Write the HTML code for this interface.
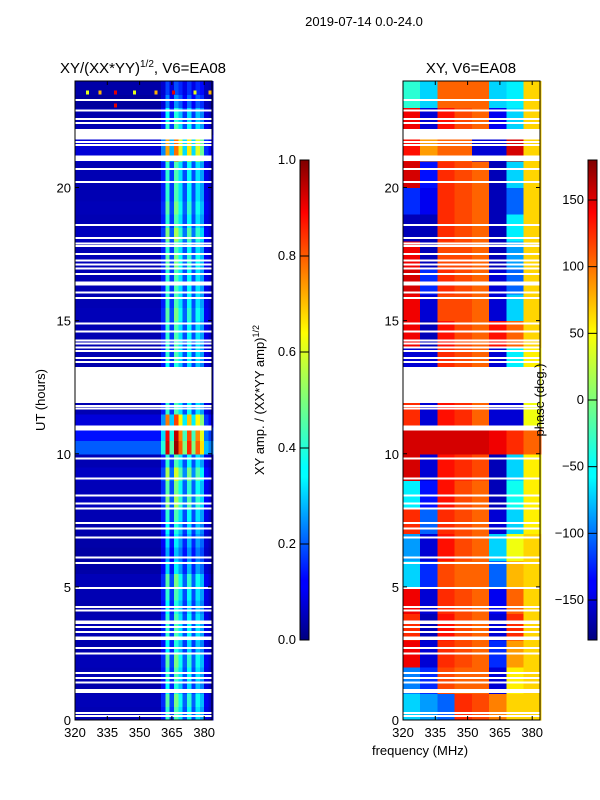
<!DOCTYPE html>
<html><head><meta charset="utf-8">
<style>
html,body{margin:0;padding:0;background:#fff;}
svg{display:block;font-family:"Liberation Sans",sans-serif;}
</style></head>
<body>
<svg id="fig" width="600" height="800" viewBox="0 0 600 800" xmlns="http://www.w3.org/2000/svg">
<defs>
<linearGradient id="jet" x1="0" y1="1" x2="0" y2="0">
<stop offset="0" stop-color="#00007f"/><stop offset="0.11" stop-color="#0000ff"/><stop offset="0.125" stop-color="#0000ff"/>
<stop offset="0.34" stop-color="#00ffff"/><stop offset="0.36" stop-color="#00ffff"/><stop offset="0.5" stop-color="#7dff7a"/>
<stop offset="0.64" stop-color="#ffff00"/><stop offset="0.66" stop-color="#ffea00"/><stop offset="0.89" stop-color="#ff0000"/><stop offset="1" stop-color="#7f0000"/>
</linearGradient>
</defs>
<text x="364" y="26" font-size="13" text-anchor="middle">2019-07-14 0.0-24.0</text>
<text x="143" y="73" font-size="15" text-anchor="middle">XY/(XX*YY)<tspan font-size="10" dy="-6">1/2</tspan><tspan dy="6">, V6=EA08</tspan></text>
<text x="471" y="73" font-size="15" text-anchor="middle">XY, V6=EA08</text>
<text transform="translate(45,400) rotate(-90)" font-size="13" text-anchor="middle">UT (hours)</text>
<text x="420" y="755" font-size="13" text-anchor="middle">frequency (MHz)</text>
<text transform="translate(264,400) rotate(-90)" font-size="13" text-anchor="middle">XY amp. / (XX*YY amp)<tspan font-size="9" dy="-5">1/2</tspan></text>
<g id="left"></g>
<g id="right"></g>
<g id="cb"></g>
<text transform="translate(544,400) rotate(-90)" font-size="13" text-anchor="middle">phase (deg.)</text>
</svg>
<script>
// ---- data ----
const freqTicks = [320,335,350,365,380];
const timeTicks = [0,5,10,15,20];
// amplitude: column profile over 2 MHz bins from 320 to 384
const ampColProfile = [0.05,0.05,0.05,0.05,0.05,0.05,0.05,0.05,0.05,0.05,0.05,0.05,0.05,0.05,0.05,0.05,0.05,0.05,0.05,0.05,
  0.15,0.42,0.18,0.45,0.35,0.2,0.38,0.2,0.35,0.28,0.1,0.07];
// amplitude row scale over 0.5 h bins (0..24h)
const ampRowScale = [1.0,1.1,0.9,1.0,1.1,0.9,1.0,1.0,0.9,1.0,1.1,0.8,0.7,0.8,0.9,1.0,1.2,1.1,1.3,1.0,
  1.9,2.0,1.8,1.0,1.0,1.0,0.9,1.0,1.0,1.0,1.1,1.0,1.0,1.0,1.1,1.0,1.2,1.0,1.1,1.0,
  1.0,1.0,1.7,1.7,1.0,0.9,0.6,0.4];
// amplitude additive baseline per 0.5 h bin
const ampRowOffset = [0,0,0,0,0,0,0,0,0,0,0,0,0,0,0,0,0,0,0,0,
  0.12,0.04,0,0,0,0,0,0,0,0,0,0,0,0,0,0,0,0,0,0,0,0,0,0,0,0,0,0.02];
// phase (deg) grid: 1 h rows × 8 MHz columns
const phaseFreqEdges = [320,328,336,344,352,360,368,376,384];
const phaseGrid = [
 [-60,-80,-100,120,110,90,60,60],
 [-90,-120,110,100,100,-150,50,60],
 [140,-150,120,110,100,-120,80,60],
 [120,-160,130,110,100,-150,120,60],
 [140,-150,120,110,100,-140,100,60],
 [-60,-120,110,100,100,-100,70,60],
 [-80,-150,130,110,100,-60,40,60],
 [120,-100,120,110,100,-150,-60,50],
 [-50,-130,130,110,100,-160,-40,50],
 [150,-150,130,120,110,-160,-60,50],
 [150,150,150,150,150,140,120,100],
 [120,-150,130,120,100,-150,-150,40],
 [120,-150,130,120,100,-150,-150,40],
 [-150,-150,120,110,100,-150,-50,50],
 [140,-160,130,110,100,130,100,60],
 [140,-150,110,110,100,-150,-60,60],
 [150,-120,120,110,100,-150,-100,60],
 [140,-160,110,110,100,-160,-80,60],
 [-160,-160,120,110,100,-160,-50,60],
 [-120,-140,120,110,100,-160,-100,60],
 [150,-130,120,110,100,-160,-60,60],
 [130,80,100,100,-150,-150,150,60],
 [140,-150,130,110,100,-140,-60,60],
 [-30,-60,100,100,100,-60,-50,60]];
// flagged intervals (hours)
const gapStart = [22.2,21.2,13.25,11.06,7.6,6.34,5.05];
const gapEnd   = [21.8,21.0,11.9,10.87,7.69,6.79,5.3];
const thinGaps = [23.28,22.9,22.57,22.42,21.7,21.6,20.7,20.2,18.6,18.1,17.9,17.8,17.5,17.25,17.1,16.95,16.75,16.43,16.35,16.05,15.85,14.9,14.6,14.25,14.14,14.0,13.85,13.6,13.45,
  11.8,11.7,9.82,9.07,8.43,8.13,7.95,7.4,7.2,6.86,6.1,5.9,4.95,4.24,4.12,3.7,3.64,3.5,3.3,3.1,3.04,2.7,2.5,1.76,1.57,1.4,1.12,1.05,0.26,0.15];
// hot spots at top (hour, freq, value)
const spotHour = [23.5,23.5,23.5,23.5,23.5,23.5,23.5,23.5,23.0];
const spotFreq = [325,331,338,347,357,365,375,382,338];
const spotVal  = [0.6,0.7,0.9,0.6,0.7,0.9,0.6,0.7,0.9];

// ---- scales ----
const NS="http://www.w3.org/2000/svg";
const Y0=720, Y1=81;
const yOf = h => Y0 - h*(Y0-Y1)/24;
function xScale(x0){ return f => x0 + (f-320)*(32.3/15); }
const xL = xScale(75), xR = xScale(403);
const PW = 137;
function jet(v){
  v=Math.max(0,Math.min(1,v));
  const c=t=>Math.round(255*Math.max(0,Math.min(1,t)));
  return `rgb(${c(Math.min(4*v-1.5,-4*v+4.5))},${c(Math.min(4*v-0.5,-4*v+3.5))},${c(Math.min(4*v+0.5,-4*v+2.5))})`;
}
function rect(g,x,y,w,h,fill,name){
  const r=document.createElementNS(NS,'rect');
  r.setAttribute('x',x);r.setAttribute('y',y);r.setAttribute('width',w);r.setAttribute('height',h);
  r.setAttribute('fill',fill);r.setAttribute('shape-rendering','crispEdges');
  
  
  g.appendChild(r);return r;
}
function line(g,x1,y1,x2,y2,name){
  const l=document.createElementNS(NS,'line');
  l.setAttribute('x1',x1);l.setAttribute('y1',y1);l.setAttribute('x2',x2);l.setAttribute('y2',y2);
  l.setAttribute('stroke','#000');l.setAttribute('stroke-width','1');
  
  
  g.appendChild(l);
}
function text(g,x,y,s,anchor,name){
  const t=document.createElementNS(NS,'text');
  t.setAttribute('x',x);t.setAttribute('y',y);t.setAttribute('font-size','13');t.setAttribute('text-anchor',anchor);
  t.textContent=s;
  
  
  g.appendChild(t);
}
const L=document.getElementById('left'), R=document.getElementById('right'), CB=document.getElementById('cb');

// amplitude heatmap
ampRowScale.forEach((s,i)=>{
  ampColProfile.forEach((p,j)=>{
    const f0=320+2*j, h0=i*0.5;
    const v=p*s+ampRowOffset[i];
    const x=xL(f0), y=yOf(h0+0.5);
    rect(L,x,y,xL(f0+2)-x+0.5,yOf(h0)-y+0.5,jet(v),'amp-cell');
  });
});
spotHour.forEach((h,k)=>{
  const x=xL(spotFreq[k]), y=yOf(h+0.15);
  rect(L,x,y,3,yOf(h)-y,jet(spotVal[k]),'amp-spot');
});
// phase heatmap
phaseGrid.forEach((row,i)=>{
  row.forEach((ph,j)=>{
    const f0=phaseFreqEdges[j], f1=phaseFreqEdges[j+1];
    const x=xR(f0), y=yOf(i+1);
    rect(R,x,y,xR(f1)-x+0.5,yOf(i)-y+0.5,jet((ph+180)/360),'phase-cell');
  });
});
// gaps
[[L,xL],[R,xR]].forEach(([g,xs])=>{
  gapStart.forEach((a,k)=>{ rect(g,xs(320),yOf(a),PW,yOf(gapEnd[k])-yOf(a),'#fff','flagged-gap'); });
  thinGaps.forEach(h=>{ rect(g,xs(320),yOf(h)-1,PW,2,'#fff','flagged-line'); });
});
// frames, ticks, labels
[[L,xL,75,'left'],[R,xR,403,'right']].forEach(([g,xs,x0,nm])=>{
  const fr=rect(g,x0,Y1,PW,Y0-Y1,'none',nm+'-frame');
  fr.setAttribute('stroke','#000');
  freqTicks.forEach(f=>{
    const x=xs(f);
    line(g,x,Y0,x,Y0-4,'x-tick');line(g,x,Y1,x,Y1+4,'x-tick');
    text(g,x,Y0+17,String(f),'middle','x-tick-label');
  });
  timeTicks.forEach(h=>{
    const y=yOf(h);
    line(g,x0,y,x0+4,y,'y-tick');line(g,x0+PW,y,x0+PW-4,y,'y-tick');
    text(g,x0-4,y+5,String(h),'end','y-tick-label');
  });
});
// colorbars
const ampCbTicks=[0.0,0.2,0.4,0.6,0.8,1.0];
const phCbTicks=[-150,-100,-50,0,50,100,150];
const CBT=160, CBB=640;
[[300,ampCbTicks,v=>CBB-v*(CBB-CBT),v=>v.toFixed(1),'amp-colorbar'],
 [588,phCbTicks,v=>CBB-(v+180)/360*(CBB-CBT),v=>String(v).replace('-','\u2212'),'phase-colorbar']].forEach(([x,ticks,ys,fmt,nm])=>{
  const r=rect(CB,x,CBT,9,CBB-CBT,'url(#jet)',nm);
  r.setAttribute('stroke','#000');
  ticks.forEach(v=>{
    const y=ys(v);
    line(CB,x,y,x+9,y,nm+'-tick');
    text(CB,x-4,y+4,fmt(v),'end',nm+'-tick-label');
  });
});
</script>
</body></html>
